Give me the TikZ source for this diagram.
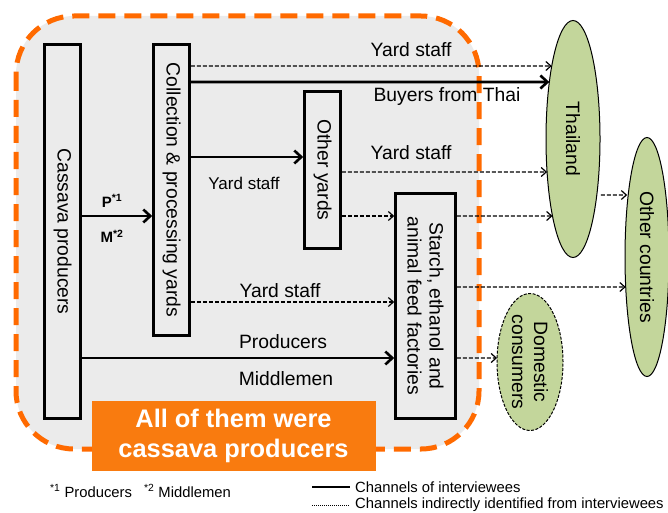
\documentclass[tikz,border=0pt]{standalone}
\usepackage{fontspec}
\setmainfont{Liberation Sans}
\usetikzlibrary{arrows.meta,shapes.geometric,intersections}
\definecolor{bggray}{HTML}{EBEBEB}
\definecolor{dorange}{HTML}{FF6A00}
\definecolor{borange}{HTML}{F97B0F}
\definecolor{olivefill}{HTML}{C3D69B}
\newcommand\hitpt[4]{% #1 path, #2 y, #3 name, #4 which (1=left, 2=right)
  \path[name path=hl#3] (0,#2) -- (700,#2);
  \path[name intersections={of=#1 and hl#3, sort by=hl#3, name=ii#3}];
  \coordinate (#3) at (ii#3-#4);}
\begin{document}
\begin{tikzpicture}[x=1pt,y=-1pt,
  box/.style={draw, line width=2.6pt, fill=bggray, inner sep=0pt},
  vtext/.style={rotate=-90, font=\fontsize{19.3}{22}\selectfont, align=center, inner sep=0pt},
  lbl/.style={font=\fontsize{19.3}{22}\selectfont, inner sep=0pt},
  legtext/.style={font=\fontsize{14.8}{17}\selectfont, inner sep=0pt, anchor=west},
  country/.style={ellipse, draw, line width=1pt, fill=olivefill, inner sep=0pt},
  sarr/.style={line width=2.6pt, -{Straight Barb[length=7pt,width=13pt]}},
  darr/.style={line width=1.2pt, dash pattern=on 4pt off 2pt, -{Straight Barb[length=5pt,width=9pt,line width=1.2pt]}},
]
\useasboundingbox (0,0) rectangle (668,513);

% dashed region
\draw[dorange, fill=bggray, line width=5pt, dash pattern=on 17pt off 9pt, rounded corners=58pt]
  (16,16) rectangle (479,449);

% boxes
\node[box, minimum width=36pt, minimum height=374pt] (cp) at (62.5,231.5) {};
\node[vtext] at (cp) {Cassava producers};
\node[box, minimum width=36pt, minimum height=291pt] (cy) at (171.5,190) {};
\node[vtext] at (cy) {Collection \& processing yards};
\node[box, minimum width=36pt, minimum height=157pt] (oy) at (322.5,170) {};
\node[vtext] at (oy) {Other yards};
\node[box, minimum width=60pt, minimum height=225pt] (sf) at (425.5,306) {};
\node[vtext] at (sf) {Starch, ethanol and\\animal feed factories};

% ellipses
\node[country, name path=thp, minimum width=54pt, minimum height=237pt] (th) at (573,139) {};
\node[vtext] at (th) {Thailand};
\node[country, name path=ocp, minimum width=44pt, minimum height=239pt] (oc) at (647,257) {};
\node[vtext] at (oc) {Other countries};
\node[country, dash pattern=on 3pt off 1.5pt, name path=dcp, minimum width=66pt, minimum height=137pt] (dc) at (530,362) {};
\node[vtext] at (dc) {Domestic\\consumers};

% intersection points on ellipses
\hitpt{thp}{66}{tA}{1}
\hitpt{thp}{82}{tB}{1}
\hitpt{thp}{172}{tC}{1}
\hitpt{thp}{216}{tD}{1}
\hitpt{thp}{195}{tE}{2}
\hitpt{ocp}{195}{oE}{1}
\hitpt{ocp}{287}{oF}{1}
\hitpt{dcp}{358}{dG}{1}

% connectors
\draw[sarr] (cp.east |- 0,216) -- (cy.west |- 0,216);
\draw[darr] (cy.east |- 0,66) -- (tA);
\draw[sarr] (cy.east |- 0,82) -- (tB);
\draw[sarr] (cy.east |- 0,157) -- (oy.west |- 0,157);
\draw[darr] (oy.east |- 0,172) -- (tC);
\draw[darr] (oy.east |- 0,216) -- (sf.west |- 0,216);
\draw[darr] (sf.east |- 0,216) -- (tD);
\draw[darr, shorten <=4pt, shorten >=1pt] (tE) -- (oE);
\draw[darr] (cy.east |- 0,302) -- (sf.west |- 0,302);
\draw[darr] (sf.east |- 0,287) -- (oF);
\draw[sarr] (cp.east |- 0,358) -- (sf.west |- 0,358);
\draw[darr] (sf.east |- 0,358) -- (dG);

% labels
\node[lbl] (l1) at (411,50) {Yard staff};
\node[lbl] (l2) at (447,97) {Buyers from Thai};
\node[lbl] (l3) at (411,153) {Yard staff};
\node[lbl, font=\fontsize{17}{20}\selectfont] (l4) at (244,183) {Yard staff};
\node[lbl] (l5) at (280,291) {Yard staff};
\node[lbl] (l6) at (283,342) {Producers};
\node[lbl] (l7) at (286,379) {Middlemen};
\node[lbl, font=\fontsize{15}{18}\selectfont\bfseries] (pm1) at (112,201) {P\textsuperscript{*1}};
\node[lbl, font=\fontsize{15}{18}\selectfont\bfseries] (pm2) at (112,236) {M\textsuperscript{*2}};

% note box
\node[fill=borange, minimum width=284pt, minimum height=70pt, inner sep=0pt, text=white,
  font=\fontsize{25.4}{30}\selectfont\bfseries, align=center] (note) at (233.5,436)
  {All of them were\\cassava producers};

% legend
\node[legtext] (fn) at (50,491) {\textsuperscript{*1} Producers\hspace{12pt}\textsuperscript{*2} Middlemen};
\coordinate (ls1) at (312,487);
\coordinate (ls2) at (350,487);
\coordinate (ld1) at (312,505);
\coordinate (ld2) at (350,505);
\draw[line width=2.6pt] (ls1) -- (ls2);
\draw[line width=1pt, dash pattern=on 1pt off 1pt] (ld1) -- (ld2);
\node[legtext] (lg1) at (355,487) {Channels of interviewees};
\node[legtext] (lg2) at (355,505) {Channels indirectly identified from interviewees};
\end{tikzpicture}
\end{document}
